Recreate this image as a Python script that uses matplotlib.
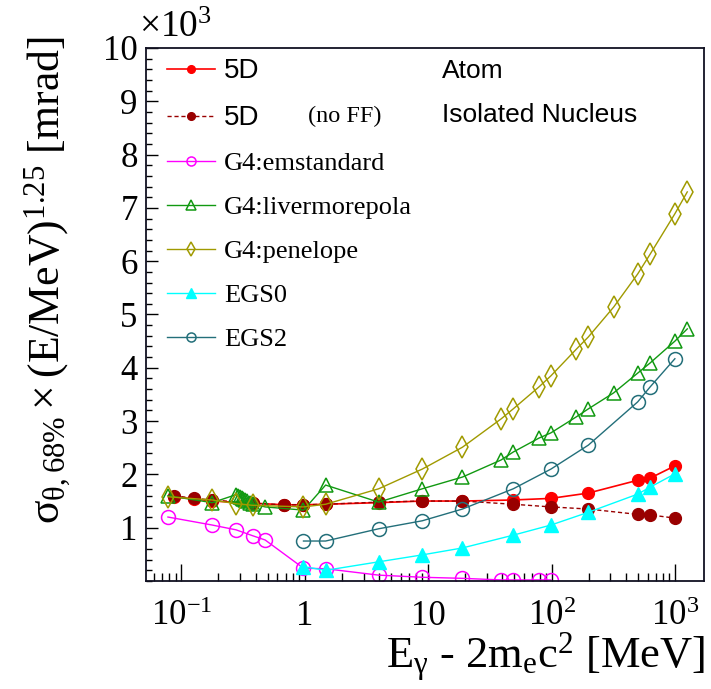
import numpy as np
import matplotlib
matplotlib.use("Agg")
import matplotlib.pyplot as plt
from matplotlib.ticker import FixedLocator, NullFormatter, LogLocator

plt.rcParams['font.family'] = ['Liberation Serif', 'DejaVu Serif']
plt.rcParams['mathtext.fontset'] = 'custom'
plt.rcParams['mathtext.rm'] = 'Liberation Serif'
plt.rcParams['mathtext.it'] = 'Liberation Serif'
plt.rcParams['mathtext.default'] = 'regular'

ME2 = 1.022  # 2 m_e c^2 [MeV]

# ---- data : photon energy [MeV], width [10^3 mrad] ----
e_5d = np.array([1.11, 1.15, 1.2, 1.4, 1.7, 2, 2.5, 5, 10, 20, 50, 100, 200, 500, 630, 1000])
y_5d_atom = [1.58, 1.54, 1.50, 1.46, 1.43, 1.43, 1.44, 1.47, 1.50, 1.50, 1.52, 1.55, 1.65, 1.89, 1.93, 2.16]
y_5d_nuc = [1.60, 1.55, 1.52, 1.46, 1.43, 1.43, 1.44, 1.48, 1.50, 1.50, 1.44, 1.39, 1.35, 1.25, 1.24, 1.18]

e_emstd = np.array([1.1, 1.2, 1.3, 1.4, 1.5, 2, 2.5, 5, 10, 20, 40, 50, 80, 100])
y_emstd = [1.20, 1.05, 0.96, 0.85, 0.77, 0.24, 0.23, 0.11, 0.07, 0.05, 0.02, 0.02, 0.02, 0.02]

e_liv = np.array([1.1, 1.2, 1.30, 1.31, 1.32, 1.33, 1.34, 1.35, 1.36, 1.38, 1.40, 1.5, 2, 2.5, 5, 10,
                  20, 40, 50, 80, 100, 160, 200, 320, 500, 630, 1000, 1260])
y_liv = [1.60, 1.47, 1.62, 1.60, 1.58, 1.56, 1.54, 1.52, 1.50, 1.47, 1.45, 1.39, 1.33, 1.80, 1.48, 1.73,
         1.95, 2.27, 2.42, 2.68, 2.78, 3.08, 3.23, 3.53, 3.90, 4.09, 4.50, 4.73]

e_pen = np.array([1.1, 1.2, 1.3, 1.4, 2, 2.5, 5, 10, 20, 40, 50, 80, 100, 160, 200, 320, 500, 630, 1000, 1260])
y_pen = [1.58, 1.52, 1.45, 1.42, 1.39, 1.44, 1.73, 2.10, 2.51, 3.04, 3.23, 3.64, 3.85, 4.35, 4.58,
         5.14, 5.76, 6.13, 6.89, 7.30]

e_egs = np.array([2, 2.5, 5, 10, 20, 50, 100, 200, 500, 630, 1000])
y_egs0 = [0.27, 0.20, 0.36, 0.49, 0.62, 0.86, 1.05, 1.29, 1.63, 1.76, 2.01]
y_egs2 = [0.75, 0.75, 0.98, 1.13, 1.35, 1.73, 2.10, 2.55, 3.36, 3.64, 4.17]

xtick_vals = [0.1, 1, 10, 100, 1000]
xtick_labels = [r'$10^{-1}$', '1', '10', r'$10^{2}$', r'$10^{3}$']
ytick_vals = [1, 2, 3, 4, 5, 6, 7, 8, 9, 10]

fig = plt.figure(figsize=(7.11, 6.89), dpi=100)
ax = fig.add_axes([146 / 711, 1 - 581 / 689, 558 / 711, 533 / 689])

ax.plot(e_5d - ME2, y_5d_atom, '-', color='#ff0000', lw=1.2, marker='o', ms=8.5,
        label='5D')
ax.plot(e_5d - ME2, y_5d_nuc, '--', color='#990000', lw=1.0, dashes=(3, 2), marker='o', ms=8.5,
        label='5D')
ax.plot(e_emstd - ME2, y_emstd, '-', color='#ff00ff', lw=1.0, marker='o', ms=10, mfc='none',
        mew=1.1, label='G4:emstandard')
ax.plot(e_liv - ME2, y_liv, '-', color='#119911', lw=1.0, marker='^', ms=10, mfc='none',
        mew=1.1, label='G4:livermorepola')
ax.plot(e_pen - ME2, y_pen, '-', color='#a09a00', lw=1.0, marker='d', ms=11, mfc='none',
        mew=1.1, label='G4:penelope')
ax.plot(e_egs - ME2, y_egs0, '-', color='#00ffff', lw=1.0, marker='^', ms=10,
        label='EGS0')
ax.plot(e_egs - ME2, y_egs2, '-', color='#236f7a', lw=1.0, marker='o', ms=10, mfc='none',
        mew=1.1, label='EGS2')

ax.set_xscale('log')
ax.set_xlim(0.0518, 1720)
ax.set_ylim(0, 10)

ax.xaxis.set_major_locator(FixedLocator(xtick_vals))
ax.set_xticklabels(xtick_labels)
ax.xaxis.set_minor_locator(LogLocator(base=10, subs=np.arange(2, 10), numticks=20))
ax.xaxis.set_minor_formatter(NullFormatter())
ax.yaxis.set_major_locator(FixedLocator(ytick_vals))
ax.set_yticklabels([str(v) for v in ytick_vals])
ax.yaxis.set_minor_locator(FixedLocator(np.arange(0, 10.01, 0.2)))

ax.tick_params(axis='both', which='both', direction='in', top=False, right=False,
               labelsize=25, width=1.0)
ax.tick_params(axis='x', which='major', length=12, pad=14)
ax.tick_params(axis='x', which='minor', length=6)
ax.tick_params(axis='y', which='major', length=8.5, pad=6)
ax.tick_params(axis='y', which='minor', length=4.5)
for s in ax.spines.values():
    s.set_linewidth(1.3)
    s.set_color('#111122')

ax.text(-0.012, 1.005, r'$\times10^{3}$', transform=ax.transAxes, fontsize=27,
        ha='left', va='bottom')

fig.text(48 / 711, 1 - 36 / 689, r'$\sigma_{\theta,68\%}\times(E/MeV)^{1.25}$ [mrad]',
         rotation=90, ha='center', va='top', fontsize=31.5)
fig.text(705 / 711, 1 - 684 / 689, r'$E_{\gamma}$ - 2$m_{e}c^{2}$ [MeV]',
         ha='right', va='bottom', fontsize=32)

leg = ax.legend(loc='upper left', bbox_to_anchor=(0.0, 1.02), frameon=False, fontsize=19,
                handlelength=1.8, handletextpad=0.35, labelspacing=0.78, markerscale=0.65,
                borderaxespad=0.4)
for t in leg.get_texts()[:2]:
    t.set_fontfamily(['Liberation Sans', 'DejaVu Sans'])
    t.set_fontsize(20)

ax.text(0.29, 0.872, '(no FF)', transform=ax.transAxes, fontsize=17.5, va='center')
ax.text(0.53, 0.957, 'Atom', transform=ax.transAxes, fontsize=19, va='center',
        family=['Liberation Sans', 'DejaVu Sans'])
ax.text(0.53, 0.874, 'Isolated Nucleus', transform=ax.transAxes, fontsize=19, va='center',
        family=['Liberation Sans', 'DejaVu Sans'])

fig.savefig('out.png', dpi=100)
